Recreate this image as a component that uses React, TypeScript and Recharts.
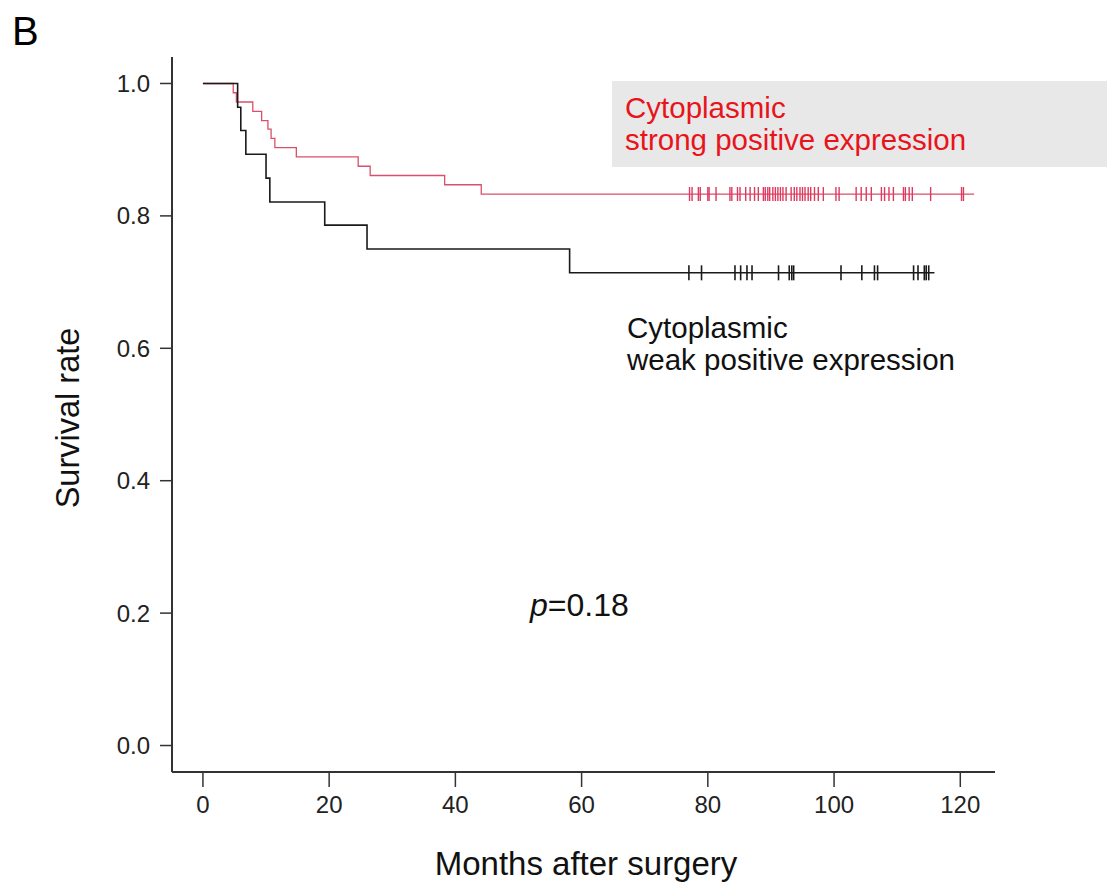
import React from "react";
import { ComposedChart, Line, Scatter, XAxis, YAxis } from "recharts";

// Kaplan-Meier step points (months, survival)
const weakTimes = [0, 5.5, 6.0, 6.8, 10.0, 10.6, 19.3, 26.0, 58.1, 115.9];
const weakSurv = [1, 0.964, 0.929, 0.893, 0.857, 0.821, 0.786, 0.75, 0.714, 0.714];
const weakCensorTimes = [77.0, 79.0, 84.3, 85.2, 86.2, 87.0, 91.2, 92.9, 93.3, 93.6, 101.1, 104.4, 106.4, 106.9, 112.6, 113.3, 114.3, 114.6, 115.0];
const weakCensorLevel = 0.714;

const strongTimes = [0, 4.8, 5.3, 7.9, 9.3, 10.3, 10.8, 11.4, 14.8, 24.6, 26.5, 38.3, 44.1, 122.2];
const strongSurv = [1, 0.986, 0.972, 0.958, 0.944, 0.931, 0.917, 0.903, 0.889, 0.875, 0.861, 0.847, 0.833, 0.833];
const strongCensorTimes = [
  77.1, 77.5, 78.5, 78.8, 80.0, 80.2, 81.3, 83.5, 83.8, 84.7, 85.1, 86.0, 86.7, 87.4, 88.0, 88.8, 89.1, 89.5, 89.8,
  90.3, 90.7, 91.1, 91.5, 91.9, 92.4, 93.2, 93.7, 94.1, 94.6, 95.0, 95.4, 95.9, 96.3, 96.9, 97.5, 98.3, 100.3, 100.8,
  103.5, 104.3, 105.1, 105.9, 107.5, 108.0, 108.7, 109.4, 111.0, 111.3, 111.9, 112.4, 115.3, 120.2, 120.5,
];
const strongCensorLevel = 0.833;

const xTicks = [0, 20, 40, 60, 80, 100, 120];
const yTicks = [0, 0.2, 0.4, 0.6, 0.8, 1.0];

const weakCurve = weakTimes.map((t, i) => ({ t, s: weakSurv[i] }));
const strongCurve = strongTimes.map((t, i) => ({ t, s: strongSurv[i] }));
const weakCensor = weakCensorTimes.map((t) => ({ t, s: weakCensorLevel }));
const strongCensor = strongCensorTimes.map((t) => ({ t, s: strongCensorLevel }));

const RED_LINE = "#d9506c";
const RED_TICK = "#dc3a60";
const RED_TEXT = "#e8141c";
const FONT = "'Liberation Sans', Arial, sans-serif";

const makeTick = (color: string, half: number, w: number) => (props: any) => {
  const { cx, cy } = props;
  if (cx == null || cy == null) return <g />;
  return <line x1={cx} x2={cx} y1={cy - half} y2={cy + half} stroke={color} strokeWidth={w} />;
};

export default function App() {
  return (
    <div style={{ position: "absolute", left: 0, top: 0, width: 1107, height: 887, background: "#fff", fontFamily: FONT }}>
      <ComposedChart
        width={1107}
        height={887}
        margin={{ top: 57, right: 112, bottom: 55, left: 72 }}
        style={{ fontFamily: FONT }}
      >
        <XAxis
          type="number"
          dataKey="t"
          domain={[-4.9, 125.5]}
          ticks={xTicks}
          allowDataOverflow
          height={60}
          tickSize={15}
          tickMargin={9}
          axisLine={{ stroke: "#333", strokeWidth: 2 }}
          tickLine={{ stroke: "#333", strokeWidth: 1.5 }}
          tick={{ fontSize: 24, fill: "#222", fontFamily: FONT }}
        />
        <YAxis
          type="number"
          dataKey="s"
          domain={[-0.04, 1.04]}
          ticks={yTicks}
          allowDataOverflow
          width={100}
          tickSize={12}
          tickMargin={10}
          tickFormatter={(v: number) => v.toFixed(1)}
          axisLine={{ stroke: "#333", strokeWidth: 2 }}
          tickLine={{ stroke: "#333", strokeWidth: 1.5 }}
          tick={{ fontSize: 24, fill: "#222", fontFamily: FONT }}
        />
        <Line
          data={strongCurve}
          dataKey="s"
          type="stepAfter"
          stroke={RED_LINE}
          strokeWidth={1.3}
          dot={false}
          activeDot={false}
          isAnimationActive={false}
        />
        <Line
          data={weakCurve}
          dataKey="s"
          type="stepAfter"
          stroke="#1a1a1a"
          strokeWidth={1.6}
          dot={false}
          activeDot={false}
          isAnimationActive={false}
        />
        <Scatter data={strongCensor} dataKey="s" shape={makeTick(RED_TICK, 7, 1.4)} isAnimationActive={false} />
        <Scatter data={weakCensor} dataKey="s" shape={makeTick("#1a1a1a", 7.5, 1.6)} isAnimationActive={false} />
      </ComposedChart>
      <svg
        width={1107}
        height={887}
        style={{ position: "absolute", left: 0, top: 0, pointerEvents: "none", fontFamily: FONT }}
      >
        <text x={12} y={45} fontSize={40} fill="#000">B</text>
        <rect x={612} y={81} width={495} height={86} fill="#e8e8e8" />
        <text x={625} y={118} fontSize={29.5} fill={RED_TEXT}>Cytoplasmic</text>
        <text x={625} y={150} fontSize={29.5} fill={RED_TEXT}>strong positive expression</text>
        <text x={627} y={338} fontSize={29.5} fill="#111">Cytoplasmic</text>
        <text x={627} y={370} fontSize={29.5} fill="#111">weak positive expression</text>
        <text x={530} y={616} fontSize={32} fill="#111">
          <tspan fontStyle="italic">p</tspan>=0.18
        </text>
        <text x={586} y={875} fontSize={33} fill="#111" textAnchor="middle">Months after surgery</text>
        <text
          x={79}
          y={418}
          fontSize={32.5}
          fill="#111"
          textAnchor="middle"
          transform="rotate(-90 79 418)"
        >
          Survival rate
        </text>
      </svg>
    </div>
  );
}
